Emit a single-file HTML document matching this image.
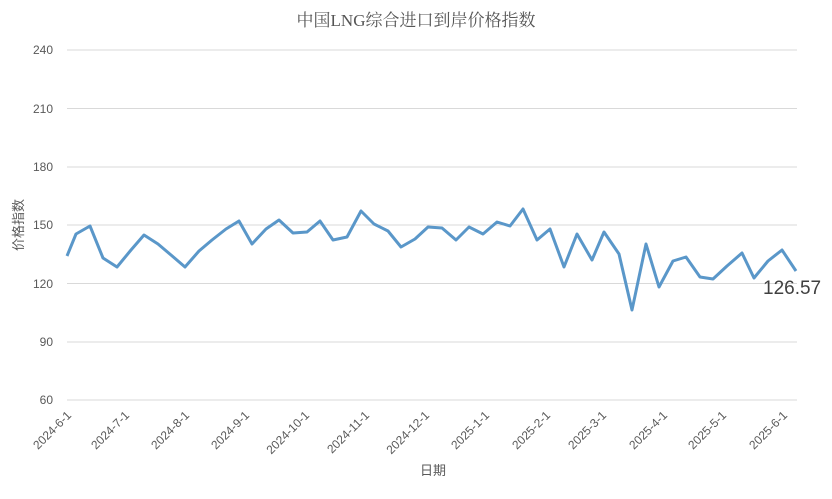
<!DOCTYPE html>
<html><head><meta charset="utf-8"><style>body{margin:0;background:#fff}</style></head><body>
<svg width="832" height="494" xmlns="http://www.w3.org/2000/svg" font-family="Liberation Sans, Noto Sans CJK SC, sans-serif">
<rect width="832" height="494" fill="#fff"/>
<text x="416" y="26" text-anchor="middle" font-size="17" fill="#555" font-family="Liberation Serif, Noto Serif CJK SC, serif">中国LNG综合进口到岸价格指数</text>
<g stroke="#d9d9d9" stroke-width="1">
<line x1="67" x2="797" y1="50" y2="50"/><line x1="67" x2="797" y1="108.5" y2="108.5"/>
<line x1="67" x2="797" y1="167" y2="167"/><line x1="67" x2="797" y1="225" y2="225"/>
<line x1="67" x2="797" y1="283.5" y2="283.5"/><line x1="67" x2="797" y1="342" y2="342"/>
<line x1="67" x2="797" y1="400" y2="400"/></g>
<g font-size="12" fill="#595959" text-anchor="end">
<text x="53" y="54">240</text><text x="53" y="113">210</text><text x="53" y="171">180</text>
<text x="53" y="229">150</text><text x="53" y="288">120</text><text x="53" y="346">90</text><text x="53" y="404">60</text></g>
<g font-size="12" fill="#595959" text-anchor="end">
<text transform="translate(72,416) rotate(-45)">2024-6-1</text>
<text transform="translate(130,416) rotate(-45)">2024-7-1</text>
<text transform="translate(190,416) rotate(-45)">2024-8-1</text>
<text transform="translate(250,416) rotate(-45)">2024-9-1</text>
<text transform="translate(310,416) rotate(-45)">2024-10-1</text>
<text transform="translate(370,416) rotate(-45)">2024-11-1</text>
<text transform="translate(430,416) rotate(-45)">2024-12-1</text>
<text transform="translate(490,416) rotate(-45)">2025-1-1</text>
<text transform="translate(551,416) rotate(-45)">2025-2-1</text>
<text transform="translate(607,416) rotate(-45)">2025-3-1</text>
<text transform="translate(668,416) rotate(-45)">2025-4-1</text>
<text transform="translate(727,416) rotate(-45)">2025-5-1</text>
<text transform="translate(788,416) rotate(-45)">2025-6-1</text></g>
<text x="433" y="475" text-anchor="middle" font-size="13" fill="#595959">日期</text>
<text transform="translate(23,225) rotate(-90)" text-anchor="middle" font-size="13" fill="#595959">价格指数</text>
<polyline fill="none" stroke="#5a97c9" stroke-width="3" stroke-linejoin="round" points="67,256 76,234 90,226 103,258 117,267 131,250 144,235 158,244 171,255 185,267 199,251 212,240 226,229 239,221 252,244 266,229 279,220 293,233 307,232 320,221 333,240 347,237 361,211 374,224 388,231 401,247 415,239 428,227 442,228 456,240 469,227 483,234 497,222 510,226 523,209 537,240 550,229 564,267 577,234 592,260 604,232 619,254 632,310 646,244 659,287 673,261 686,257 700,277 713,279 727,266 742,253 754,278 768,261 782,250 796,271"/>
<text x="763" y="294" font-size="19" fill="#404040">126.57</text>
</svg>
</body></html>
